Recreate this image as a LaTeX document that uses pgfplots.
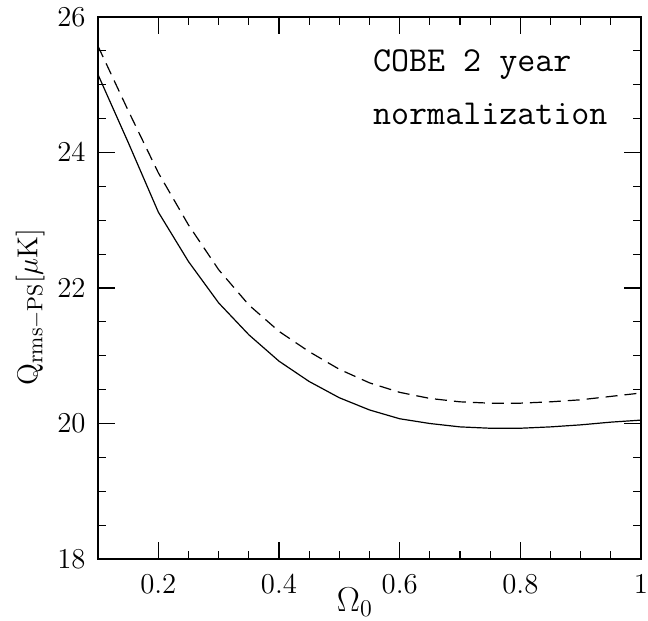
\documentclass[border=0pt]{standalone}
\usepackage{pgfplots}
\pgfplotsset{compat=1.18}
\begin{document}
\begin{tikzpicture}
\begin{axis}[
 name=ax,
 scale only axis,
 width=271.5pt, height=271pt,
 xmin=0.1, xmax=1, ymin=18, ymax=26,
 xtick={0.2,0.4,0.6,0.8,1},
 ytick={18,20,22,24,26},
 minor x tick num=3,
 minor y tick num=3,
 tick align=inside,
 xtick pos=both, ytick pos=both,
 major tick length=8.3pt,
 minor tick length=4.2pt,
 axis line style={line width=0.8pt},
 every tick/.style={line width=0.6pt, black},
 ticklabel style={font=\fontsize{14}{16}\selectfont},
 xticklabel style={inner sep=0pt, yshift=-8pt},
 yticklabel style={inner sep=0pt, xshift=-6pt},
 xlabel={$\Omega_0$},
 ylabel={$\mathrm{Q}_{\rm rms-PS}\Big[\mu{\rm K}\Big]$},
 xlabel style={at={(axis description cs:0.473,0)}, anchor=north, inner sep=0pt, yshift=-14pt, font=\fontsize{17.5}{20}\selectfont},
 ylabel style={at={(axis description cs:-0.0976,0.465)}, anchor=south, inner sep=0pt, font=\fontsize{15}{18}\selectfont},
]
\addplot[black, line width=0.6pt] coordinates {
 (0.10,25.15) (0.15,24.15) (0.20,23.12) (0.25,22.39) (0.30,21.78)
 (0.35,21.31) (0.40,20.92) (0.45,20.62) (0.50,20.38) (0.55,20.20)
 (0.60,20.07) (0.65,20.00) (0.70,19.95) (0.75,19.93) (0.80,19.93)
 (0.85,19.95) (0.90,19.98) (0.95,20.02) (1.00,20.05)
};
\addplot[black, line width=0.6pt, dash pattern=on 6pt off 3.5pt] coordinates {
 (0.10,25.57) (0.15,24.62) (0.20,23.70) (0.25,22.93) (0.30,22.27)
 (0.35,21.75) (0.40,21.36) (0.45,21.06) (0.50,20.80) (0.55,20.60)
 (0.60,20.46) (0.65,20.37) (0.70,20.32) (0.75,20.30) (0.80,20.30)
 (0.85,20.32) (0.90,20.35) (0.95,20.40) (1.00,20.45)
};
\node[anchor=base west, inner sep=0pt, font=\fontsize{17.5}{20}\selectfont\ttfamily] at (axis description cs:0.506,0.899) {COBE 2 year};
\node[anchor=base west, inner sep=0pt, font=\fontsize{17.5}{20}\selectfont\ttfamily] at (axis description cs:0.506,0.801) {normalization};
\end{axis}
\pgfresetboundingbox
\path[use as bounding box] ([shift={(-49pt,-31pt)}]ax.south west) rectangle ([shift={(275pt,279.5pt)}]ax.south west);
\end{tikzpicture}
\end{document}
